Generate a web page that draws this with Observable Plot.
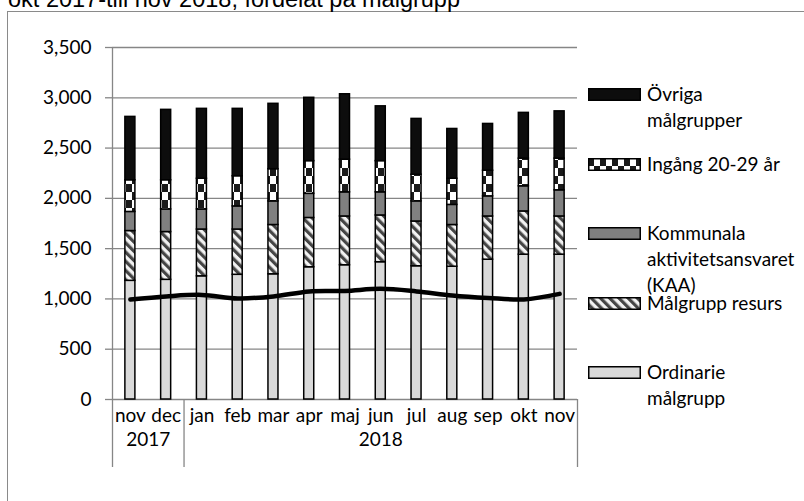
<!DOCTYPE html>
<html>
<head>
<meta charset="utf-8">
<script src="https://cdn.jsdelivr.net/npm/d3@7"></script>
<script src="https://cdn.jsdelivr.net/npm/@observablehq/plot@0.6"></script>
<style>
  html, body { margin: 0; padding: 0; background: #fff; }
  #wrap { position: relative; width: 804px; height: 501px; overflow: hidden; background: #fff; }
  #frame { position: absolute; left: 7px; top: 11px; width: 900px; height: 600px; border: 1.5px solid #8a8a8a; box-sizing: border-box; }
  #title { position: absolute; left: 8px; top: -12.5px; font-family: "Liberation Sans", Arial, sans-serif; font-size: 23.5px; line-height: 23.5px; white-space: nowrap; color: #000; }
  #chart { position: absolute; left: 0; top: 0; }
  .leg { position: absolute; left: 588px; font-family: Lato, sans-serif; font-size: 19px; line-height: 26px; color: #000; white-space: nowrap; }
  .leg svg { position: absolute; left: 0; top: 7px; }
  .leg span { position: absolute; left: 59px; top: 0; }
</style>
</head>
<body>
<div id="wrap">
  <div id="frame"></div>
  <div id="title">okt 2017-till nov 2018, fördelat på målgrupp</div>
  <svg width="0" height="0" style="position:absolute">
    <defs>
      <pattern id="pat-resurs" width="6.5" height="6.5" patternUnits="userSpaceOnUse" patternTransform="rotate(-45)">
        <rect width="6.5" height="6.5" fill="#f2f2f2"></rect>
        <rect width="3.2" height="6.5" fill="#454545"></rect>
      </pattern>
      <pattern id="pat-ingang" width="12" height="16" patternUnits="userSpaceOnUse">
        <rect width="12" height="16" fill="#ffffff"></rect>
        <rect x="0" y="0" width="6" height="8" fill="#1a1a1a"></rect>
        <rect x="6" y="8" width="6" height="8" fill="#1a1a1a"></rect>
      </pattern>
    </defs>
  </svg>
  <div id="chart"></div>
</div>
<script>
// ---- data ----
const months = ["nov","dec","jan","feb","mar","apr","maj","jun","jul","aug","sep","okt","nov"];
const years  = ["2017","2017","2018","2018","2018","2018","2018","2018","2018","2018","2018","2018","2018"];
const ordinarie = [1180,1190,1225,1240,1245,1315,1335,1365,1325,1320,1390,1440,1440];
const resurs    = [495,475,465,450,490,490,485,465,445,415,430,430,380];
const kaa       = [190,225,200,230,235,240,240,230,200,200,200,250,260];
const ingang    = [315,290,305,300,320,325,325,310,265,260,255,275,315];
const ovriga    = [630,700,695,670,650,630,650,545,555,495,465,455,470];
const linje     = [995,1025,1040,1005,1025,1075,1080,1100,1075,1035,1010,995,1050];
const yTicks = [0,500,1000,1500,2000,2500,3000,3500];
const seriesNames = ["Ordinarie målgrupp","Målgrupp resurs","Kommunala aktivitetsansvaret (KAA)","Ingång 20-29 år","Övriga målgrupper"];
const seriesValues = [ordinarie, resurs, kaa, ingang, ovriga];
const legendLabels = [["Övriga","målgrupper"],["Ingång 20-29 år"],["Kommunala","aktivitetsansvaret","(KAA)"],["Målgrupp resurs"],["Ordinarie","målgrupp"]];
const legendSeries = ["Övriga målgrupper","Ingång 20-29 år","Kommunala aktivitetsansvaret (KAA)","Målgrupp resurs","Ordinarie målgrupp"];

// ---- styles ----
const fills = {
  "Ordinarie målgrupp": "#d9d9d9",
  "Målgrupp resurs": "url(#pat-resurs)",
  "Kommunala aktivitetsansvaret (KAA)": "#808080",
  "Ingång 20-29 år": "url(#pat-ingang)",
  "Övriga målgrupper": "#0d0d0d"
};
const W = 804, H = 501, mL = 112, mR = 227, mT = 47, mB = 102;
const step = (W - mL - mR) / months.length;
const frameH = H - mT - mB;
const gray = "#868686";

const keys = months.map((m, i) => `${m} ${years[i]}`);
const rows = [];
seriesNames.forEach((s, si) => keys.forEach((k, i) => rows.push({key: k, series: s, value: seriesValues[si][i]})));
const lineRows = keys.map((k, i) => ({key: k, value: linje[i]}));
const monthRows = keys.map((k, i) => ({key: k, month: months[i]}));

// year groups
const groups = [];
keys.forEach((k, i) => {
  const last = groups[groups.length - 1];
  if (last && last.year === years[i]) last.keys.push(k);
  else groups.push({year: years[i], keys: [k]});
});

const chart = Plot.plot({
  width: W, height: H,
  marginLeft: mL, marginRight: mR, marginTop: mT, marginBottom: mB,
  style: {fontFamily: "Lato, sans-serif", fontSize: "19px", background: "transparent", overflow: "visible", color: "#000"},
  x: {domain: keys, paddingInner: 0.72, paddingOuter: 0.36, round: false, axis: null},
  y: {domain: [0, 3500], label: null},
  color: {type: "identity"},
  marks: [
    Plot.gridY({ticks: yTicks, stroke: gray, strokeOpacity: 1, strokeWidth: 1.3}),
    Plot.axisY({ticks: yTicks, tickSize: 7, tickPadding: 14, tickFormat: d3.format(","), stroke: gray, strokeWidth: 1.3, fontSize: 19, label: null}),
    Plot.ruleX([keys[0]], {x: d => d, dx: -step / 2, stroke: gray, strokeWidth: 1.3, insetBottom: -68}),
    Plot.ruleX(groups.slice(1), {x: d => d.keys[0], dx: -step / 2, stroke: gray, strokeWidth: 1.3, insetTop: frameH, insetBottom: -68}),
    Plot.ruleX([keys[keys.length - 1]], {x: d => d, dx: step / 2, stroke: gray, strokeWidth: 1.3, insetTop: frameH, insetBottom: -68}),
    Plot.barY(rows, Plot.stackY({x: "key", y: "value", z: "series", fill: d => fills[d.series], stroke: "#000", strokeWidth: 1.5})),
    Plot.line(lineRows, {x: "key", y: "value", curve: "catmull-rom", stroke: "#000", strokeWidth: 4.5}),
    Plot.text(monthRows, {x: "key", text: "month", frameAnchor: "bottom", dy: 22, fontSize: 19}),
    ...groups.map(g => Plot.text([g], {x: d => d.keys[0], text: "year", frameAnchor: "bottom", dy: 46, dx: (g.keys.length - 1) / 2 * step, fontSize: 19}))
  ]
});
document.getElementById("chart").appendChild(chart);

// legend
const wrap = document.getElementById("wrap");
legendSeries.forEach((s, i) => {
  const div = document.createElement("div");
  div.className = "leg";
  div.style.top = (81 + 69.6 * i) + "px";
  const sw = d3.create("svg").attr("width", 53).attr("height", 13);
  sw.append("rect").attr("x", 0.75).attr("y", 0.75).attr("width", 51.5).attr("height", 11.5)
    .attr("fill", fills[s]).attr("stroke", "#000").attr("stroke-width", 1.5);
  div.appendChild(sw.node());
  const span = document.createElement("span");
  span.innerHTML = legendLabels[i].join("<br>");
  div.appendChild(span);
  wrap.appendChild(div);
});
</script>
</body>
</html>
